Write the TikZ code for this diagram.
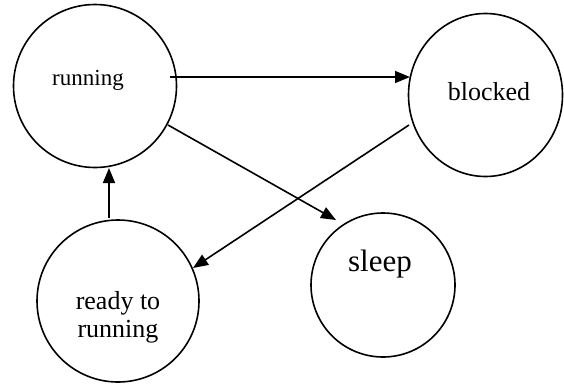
\documentclass[tikz,border=0pt]{standalone}
\usepackage{fontspec}
\setmainfont{Liberation Serif}
\usetikzlibrary{arrows.meta,shapes.geometric}
\begin{document}
\begin{tikzpicture}[x=1pt,y=-1pt,
  statecircle/.style={draw, circle, line width=1.6pt, inner sep=0pt},
  stateellipse/.style={draw, ellipse, line width=1.6pt, inner sep=0pt},
  arr/.style={line width=1.6pt, -{Triangle[length=15pt,width=12pt]}},
  lbl/.style={inner sep=0pt, align=center}]
\useasboundingbox (0,0) rectangle (564,383);
\node[statecircle, minimum size=163pt] (running) at (95,86) {};
\node[stateellipse, minimum width=154pt, minimum height=163pt] (blocked) at (485.5,95) {};
\node[statecircle, minimum size=162pt] (ready) at (118,301) {};
\node[statecircle, minimum size=144pt] (sleep) at (383,285) {};
\node[lbl, font=\fontsize{23}{26}\selectfont] (trun) at (88,80) {running};
\node[lbl, font=\fontsize{26}{29}\selectfont] (tblk) at (489,92) {blocked};
\node[lbl, font=\fontsize{26}{29}\selectfont] (trdy) at (118,317) {ready to\\[-1pt]running};
\node[lbl, font=\fontsize{31}{34}\selectfont] (tslp) at (380,264) {sleep};
\coordinate (a1s) at (170,77);
\coordinate (a1e) at (410,77);
\coordinate (a2s) at (168,125);
\coordinate (a2e) at (336,220);
\coordinate (a3s) at (409,125);
\coordinate (a3e) at (193,268);
\coordinate (a4s) at (109,218);
\coordinate (a4e) at (109,168);
\draw[arr] (a1s) -- (a1e);
\draw[arr] (a2s) -- (a2e);
\draw[arr] (a3s) -- (a3e);
\draw[arr] (a4s) -- (a4e);
\end{tikzpicture}
\end{document}
